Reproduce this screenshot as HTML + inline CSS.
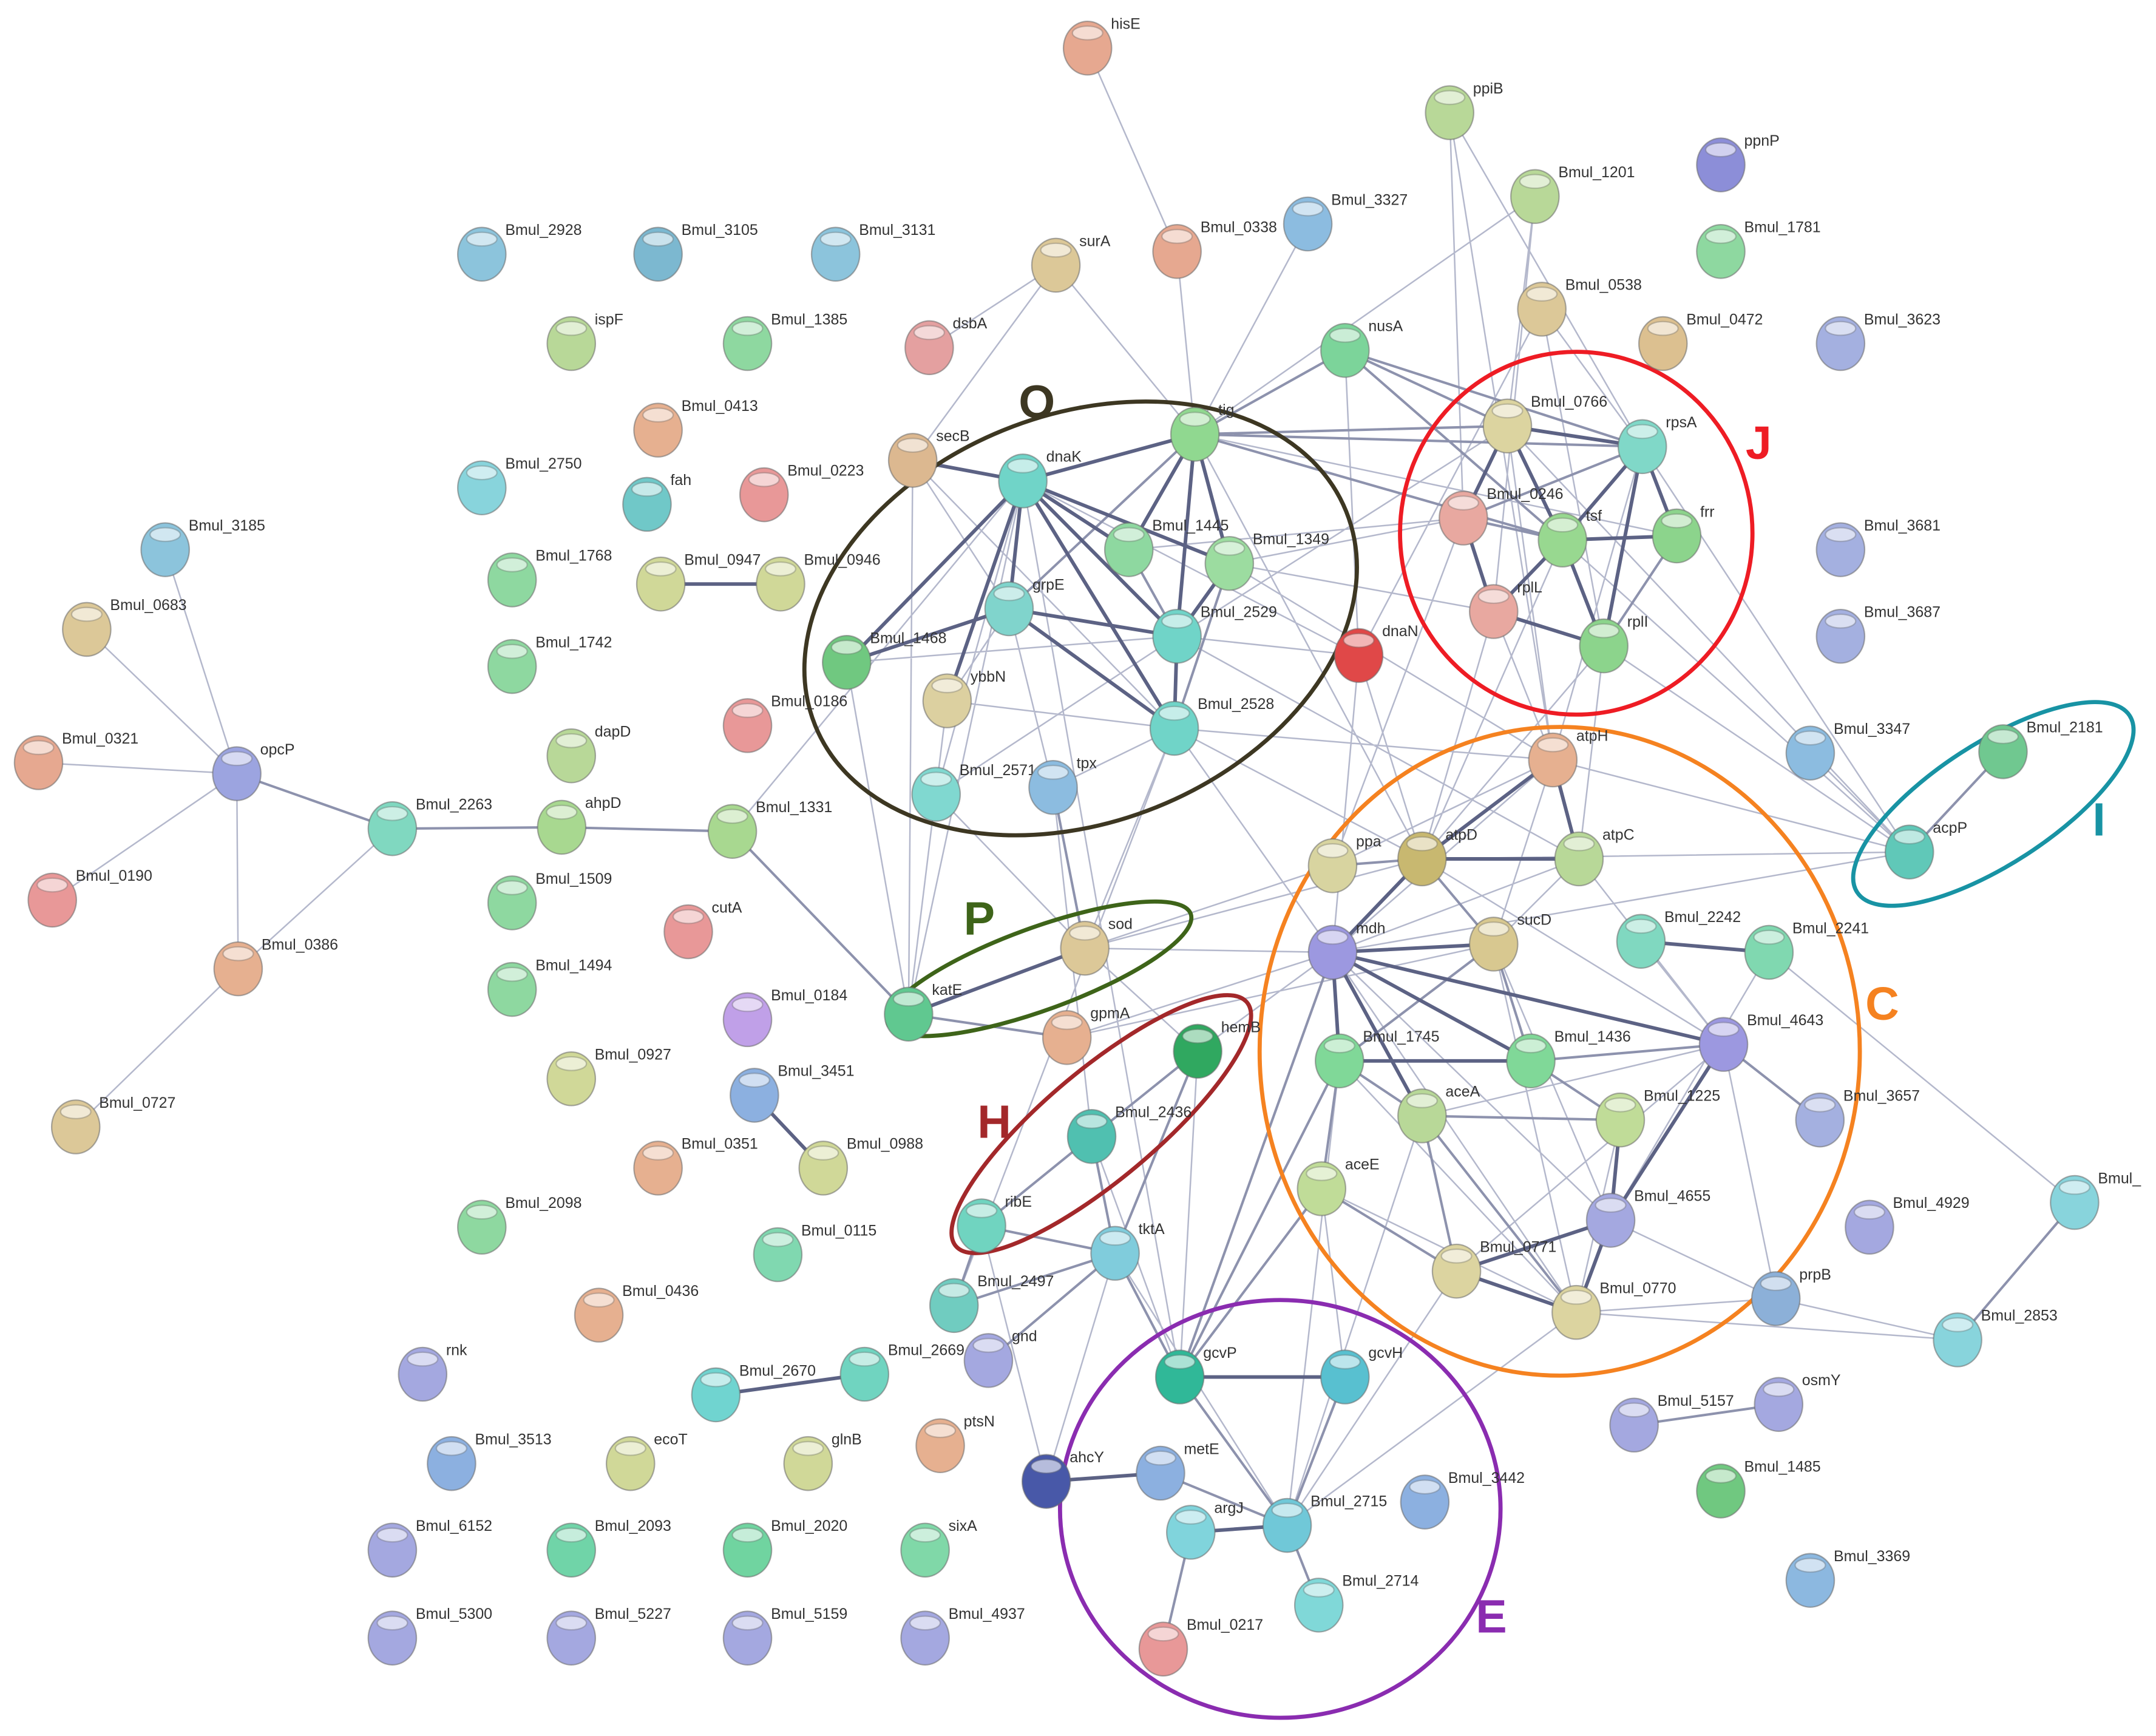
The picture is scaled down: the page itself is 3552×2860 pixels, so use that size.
<!DOCTYPE html>
<html><head><meta charset="utf-8"><style>
html,body{margin:0;padding:0;background:#fff}
svg{display:block}
text{font-family:"Liberation Sans",sans-serif;font-size:11px;fill:#333}
.L{font-weight:bold;font-size:34px}
</style></head><body>
<svg width="3552" height="2860" viewBox="0 0 3552 2860" xmlns="http://www.w3.org/2000/svg">
<defs>
<ellipse id="h" cx="0" cy="-11" rx="11" ry="5" fill="#fff" opacity="0.6"/>
</defs>
<rect width="3552" height="2860" fill="#fff"/>
<g transform="matrix(2.268,0,0,2.264,0,0)">
<path fill="none" stroke="#b4b8cc" stroke-width="1.1" d="
M790 35L855 183M855 183L868 316M767 193L675 253M767 193L663 335M767 193L868 316
M1053 82L1193 325M1053 82L1128 553M1115 143L868 316M1115 143L1085 445M1115 143L1095 310
M1120 225L1193 325M1120 225L987 477M172 563L120 400M172 563L63 458M172 563L28 555M172 563L38 655M172 563L173 705
M173 705L55 820M173 705L285 603M532 605L743 350M1422 975L1290 945M1285 693L1507 875
M1387 620L1128 553M1387 620L1033 625M1387 620L1193 325M1387 620L968 693M1387 620L1095 310M1387 620L1135 393M1387 620L1165 470M1387 620L1315 548
M1120 225L1165 470M1095 310L1128 553M1135 393L1033 625M1085 445L1128 553M987 477L855 463M987 477L1033 625M977 255L987 477
M853 530L968 693M853 530L1033 625M855 463L1095 310M893 410L1085 445M893 410L1063 377M868 316L1033 625M733 443L765 573
M680 578L743 350M765 573L853 530M680 578L855 463M663 335L660 738M615 482L660 738M688 510L660 738M775 755L968 693M775 755L1085 687
M870 765L968 693M788 690L968 693M788 690L1033 625M968 630L788 690M693 950L853 530M857 1002L743 350M1145 955L1290 945M1170 888L1290 945
M1145 955L1422 975M1252 760L1290 945M660 738L743 350M788 690L853 530M950 163L868 316M1053 82L1063 377
M977 255L868 316M977 255L1193 325M868 316L1218 390M743 350L987 477M820 400L1063 377M893 410L1128 553M855 463L1147 625M853 530L1128 553
M968 630L1128 553M987 477L968 693M1085 445L1033 625M1165 470L1147 625M1165 470L1033 625M1063 377L968 630M1193 325L1128 553
M968 693L1145 955M968 693L1170 888M1085 687L1170 888M1085 687L1145 955M1033 625L1252 760M1147 625L1252 760M1192 685L1252 760
M1033 812L1252 760M960 865L1145 955M973 772L1145 955M960 865L977 1002M973 772L935 1110M1033 812L935 1110M1058 925L935 1110M1145 955L935 1110
M810 912L935 1110M870 765L857 1002M793 827L857 1002M713 892L760 1078M810 912L760 1078M765 573L793 827M788 690L870 765M680 578L788 690
M663 335L853 530M663 335L733 443M615 482L743 350M615 482L855 463M688 510L733 443M688 510L853 530M1128 553L1085 687M1128 553L968 693
M1147 625L1085 687M1147 625L968 693M1192 685L1285 693M1285 693L1170 888M1252 760L1058 925M1177 815L1145 955M1322 815L1252 760
"/>
<path fill="none" stroke="#8d92ad" stroke-width="1.8" d="
M172 563L285 603M285 603L408 602M408 602L532 605M532 605L660 738M1422 975L1507 875M1455 547L1387 620M1187 1037L1292 1022
M733 443L868 316M820 400L855 463M868 316L1095 310M868 316L977 255M893 410L853 530M868 316L1193 325M868 316L1135 393
M977 255L1193 325M977 255L1095 310M977 255L1135 393M1063 377L1193 325M1218 390L1165 470M1063 377L1135 393
M968 630L1033 625M1033 625L1085 687M1085 687L1112 772M1085 687L973 772M973 772L1033 812M973 772L960 865M1033 812L1177 815
M1033 812L1058 925M1033 812L1145 955M960 865L1058 925M1112 772L1177 815M1112 772L1252 760M1252 760L1322 815M960 865L857 1002
M973 772L857 1002M968 693L857 1002M857 1002L935 1110M977 1002L935 1110M935 1110L843 1072M935 1110L958 1168M865 1115L845 1200
M870 765L793 827M793 827L713 892M793 827L810 912M810 912L713 892M810 912L693 950M810 912L718 990M870 765L810 912M693 950L713 892
M660 738L775 755M788 690L765 573M810 912L857 1002
"/>
<path fill="none" stroke="#5c6284" stroke-width="2.6" d="
M480 425L567 425M548 797L598 850M520 1015L628 1000M660 738L788 690
M743 350L868 316M743 350L733 443M743 350L820 400M743 350L855 463M743 350L853 530M743 350L615 482M743 350L663 335M743 350L688 510M743 350L893 410
M733 443L855 463M733 443L853 530M733 443L615 482M855 463L868 316M855 463L893 410M853 530L855 463M868 316L893 410M868 316L820 400
M1095 310L1193 325M1095 310L1135 393M1095 310L1063 377M1193 325L1135 393M1193 325L1218 390M1193 325L1165 470M1135 393L1218 390
M1135 393L1085 445M1135 393L1165 470M1085 445L1165 470M1063 377L1085 445
M1128 553L1033 625M1128 553L1147 625M1033 625L1147 625M1033 625L968 693M968 693L1085 687M968 693L973 772M968 693L1112 772
M968 693L1033 812M968 693L1252 760M973 772L1112 772M1177 815L1170 888M1252 760L1170 888M1170 888L1145 955M1170 888L1058 925
M1058 925L1145 955M1192 685L1285 693M857 1002L977 1002M935 1110L865 1115M843 1072L760 1078
"/>
<ellipse cx="785" cy="450" rx="208" ry="148" transform="rotate(-22 785 450)" fill="none" stroke="#3d3722" stroke-width="3"/>
<ellipse cx="1145" cy="388" rx="128" ry="132" fill="none" stroke="#ee1c24" stroke-width="3"/>
<ellipse cx="1448" cy="585" rx="118" ry="44" transform="rotate(-33 1448 585)" fill="none" stroke="#1893a4" stroke-width="3"/>
<ellipse cx="1133" cy="765" rx="218" ry="236" fill="none" stroke="#f58220" stroke-width="3"/>
<ellipse cx="755" cy="705" rx="117" ry="30" transform="rotate(-20 755 705)" fill="none" stroke="#3e6419" stroke-width="3"/>
<ellipse cx="800" cy="818" rx="138" ry="40" transform="rotate(-40 800 818)" fill="none" stroke="#a3282a" stroke-width="3"/>
<ellipse cx="930" cy="1098" rx="160" ry="152" fill="none" stroke="#8a2cb0" stroke-width="3"/>
<text class="L" x="740" y="304" style="fill:#3d3722">O</text>
<text class="L" x="1268" y="334" style="fill:#ee1c24">J</text>
<text class="L" x="1520" y="608" style="fill:#1893a4">I</text>
<text class="L" x="1355" y="742" style="fill:#f58220">C</text>
<text class="L" x="700" y="680" style="fill:#3e6419">P</text>
<text class="L" x="710" y="828" style="fill:#a3282a">H</text>
<text class="L" x="1072" y="1188" style="fill:#8a2cb0">E</text>
<g stroke="#6a6a6a" stroke-opacity="0.55" stroke-width="1">
<g transform="translate(790 35)"><ellipse rx="17.5" ry="19.5" fill="#e6a890"/><use href="#h"/><text x="17" y="-14" stroke="none">hisE</text></g>
<g transform="translate(1053 82)"><ellipse rx="17.5" ry="19.5" fill="#b8d898"/><use href="#h"/><text x="17" y="-14" stroke="none">ppiB</text></g>
<g transform="translate(1115 143)"><ellipse rx="17.5" ry="19.5" fill="#b8d898"/><use href="#h"/><text x="17" y="-14" stroke="none">Bmul_1201</text></g>
<g transform="translate(1250 120)"><ellipse rx="17.5" ry="19.5" fill="#8c8ed8"/><use href="#h"/><text x="17" y="-14" stroke="none">ppnP</text></g>
<g transform="translate(950 163)"><ellipse rx="17.5" ry="19.5" fill="#8cbce0"/><use href="#h"/><text x="17" y="-14" stroke="none">Bmul_3327</text></g>
<g transform="translate(855 183)"><ellipse rx="17.5" ry="19.5" fill="#e6a890"/><use href="#h"/><text x="17" y="-14" stroke="none">Bmul_0338</text></g>
<g transform="translate(767 193)"><ellipse rx="17.5" ry="19.5" fill="#dcc898"/><use href="#h"/><text x="17" y="-14" stroke="none">surA</text></g>
<g transform="translate(350 185)"><ellipse rx="17.5" ry="19.5" fill="#8cc4dc"/><use href="#h"/><text x="17" y="-14" stroke="none">Bmul_2928</text></g>
<g transform="translate(478 185)"><ellipse rx="17.5" ry="19.5" fill="#7cb8d0"/><use href="#h"/><text x="17" y="-14" stroke="none">Bmul_3105</text></g>
<g transform="translate(607 185)"><ellipse rx="17.5" ry="19.5" fill="#8cc4dc"/><use href="#h"/><text x="17" y="-14" stroke="none">Bmul_3131</text></g>
<g transform="translate(1250 183)"><ellipse rx="17.5" ry="19.5" fill="#8ed8a0"/><use href="#h"/><text x="17" y="-14" stroke="none">Bmul_1781</text></g>
<g transform="translate(1120 225)"><ellipse rx="17.5" ry="19.5" fill="#dcc898"/><use href="#h"/><text x="17" y="-14" stroke="none">Bmul_0538</text></g>
<g transform="translate(1208 250)"><ellipse rx="17.5" ry="19.5" fill="#dcc090"/><use href="#h"/><text x="17" y="-14" stroke="none">Bmul_0472</text></g>
<g transform="translate(1337 250)"><ellipse rx="17.5" ry="19.5" fill="#a4b0e0"/><use href="#h"/><text x="17" y="-14" stroke="none">Bmul_3623</text></g>
<g transform="translate(415 250)"><ellipse rx="17.5" ry="19.5" fill="#b8d898"/><use href="#h"/><text x="17" y="-14" stroke="none">ispF</text></g>
<g transform="translate(543 250)"><ellipse rx="17.5" ry="19.5" fill="#8ed8a0"/><use href="#h"/><text x="17" y="-14" stroke="none">Bmul_1385</text></g>
<g transform="translate(675 253)"><ellipse rx="17.5" ry="19.5" fill="#e4a0a0"/><use href="#h"/><text x="17" y="-14" stroke="none">dsbA</text></g>
<g transform="translate(977 255)"><ellipse rx="17.5" ry="19.5" fill="#7cd49a"/><use href="#h"/><text x="17" y="-14" stroke="none">nusA</text></g>
<g transform="translate(478 313)"><ellipse rx="17.5" ry="19.5" fill="#e6b090"/><use href="#h"/><text x="17" y="-14" stroke="none">Bmul_0413</text></g>
<g transform="translate(663 335)"><ellipse rx="17.5" ry="19.5" fill="#dcb890"/><use href="#h"/><text x="17" y="-14" stroke="none">secB</text></g>
<g transform="translate(743 350)"><ellipse rx="17.5" ry="19.5" fill="#70d4c8"/><use href="#h"/><text x="17" y="-14" stroke="none">dnaK</text></g>
<g transform="translate(868 316)"><ellipse rx="17.5" ry="19.5" fill="#90d890"/><use href="#h"/><text x="17" y="-14" stroke="none">tig</text></g>
<g transform="translate(1095 310)"><ellipse rx="17.5" ry="19.5" fill="#dcd4a0"/><use href="#h"/><text x="17" y="-14" stroke="none">Bmul_0766</text></g>
<g transform="translate(1193 325)"><ellipse rx="17.5" ry="19.5" fill="#80d8c8"/><use href="#h"/><text x="17" y="-14" stroke="none">rpsA</text></g>
<g transform="translate(350 355)"><ellipse rx="17.5" ry="19.5" fill="#88d4dc"/><use href="#h"/><text x="17" y="-14" stroke="none">Bmul_2750</text></g>
<g transform="translate(470 367)"><ellipse rx="17.5" ry="19.5" fill="#70c8c8"/><use href="#h"/><text x="17" y="-14" stroke="none">fah</text></g>
<g transform="translate(555 360)"><ellipse rx="17.5" ry="19.5" fill="#e89898"/><use href="#h"/><text x="17" y="-14" stroke="none">Bmul_0223</text></g>
<g transform="translate(120 400)"><ellipse rx="17.5" ry="19.5" fill="#8cc4dc"/><use href="#h"/><text x="17" y="-14" stroke="none">Bmul_3185</text></g>
<g transform="translate(372 422)"><ellipse rx="17.5" ry="19.5" fill="#8ed8a0"/><use href="#h"/><text x="17" y="-14" stroke="none">Bmul_1768</text></g>
<g transform="translate(480 425)"><ellipse rx="17.5" ry="19.5" fill="#d0d898"/><use href="#h"/><text x="17" y="-14" stroke="none">Bmul_0947</text></g>
<g transform="translate(567 425)"><ellipse rx="17.5" ry="19.5" fill="#d0d898"/><use href="#h"/><text x="17" y="-14" stroke="none">Bmul_0946</text></g>
<g transform="translate(820 400)"><ellipse rx="17.5" ry="19.5" fill="#8ed8a0"/><use href="#h"/><text x="17" y="-14" stroke="none">Bmul_1445</text></g>
<g transform="translate(893 410)"><ellipse rx="17.5" ry="19.5" fill="#9cdca0"/><use href="#h"/><text x="17" y="-14" stroke="none">Bmul_1349</text></g>
<g transform="translate(1063 377)"><ellipse rx="17.5" ry="19.5" fill="#e8a8a0"/><use href="#h"/><text x="17" y="-14" stroke="none">Bmul_0246</text></g>
<g transform="translate(1135 393)"><ellipse rx="17.5" ry="19.5" fill="#98d890"/><use href="#h"/><text x="17" y="-14" stroke="none">tsf</text></g>
<g transform="translate(1218 390)"><ellipse rx="17.5" ry="19.5" fill="#8cd48c"/><use href="#h"/><text x="17" y="-14" stroke="none">frr</text></g>
<g transform="translate(1337 400)"><ellipse rx="17.5" ry="19.5" fill="#a4b0e0"/><use href="#h"/><text x="17" y="-14" stroke="none">Bmul_3681</text></g>
<g transform="translate(63 458)"><ellipse rx="17.5" ry="19.5" fill="#dcc898"/><use href="#h"/><text x="17" y="-14" stroke="none">Bmul_0683</text></g>
<g transform="translate(733 443)"><ellipse rx="17.5" ry="19.5" fill="#80d4cc"/><use href="#h"/><text x="17" y="-14" stroke="none">grpE</text></g>
<g transform="translate(855 463)"><ellipse rx="17.5" ry="19.5" fill="#70d4c8"/><use href="#h"/><text x="17" y="-14" stroke="none">Bmul_2529</text></g>
<g transform="translate(987 477)"><ellipse rx="17.5" ry="19.5" fill="#e04848"/><use href="#h"/><text x="17" y="-14" stroke="none">dnaN</text></g>
<g transform="translate(1085 445)"><ellipse rx="17.5" ry="19.5" fill="#e8a8a0"/><use href="#h"/><text x="17" y="-14" stroke="none">rplL</text></g>
<g transform="translate(1165 470)"><ellipse rx="17.5" ry="19.5" fill="#8cd48c"/><use href="#h"/><text x="17" y="-14" stroke="none">rplI</text></g>
<g transform="translate(372 485)"><ellipse rx="17.5" ry="19.5" fill="#8ed8a0"/><use href="#h"/><text x="17" y="-14" stroke="none">Bmul_1742</text></g>
<g transform="translate(1337 463)"><ellipse rx="17.5" ry="19.5" fill="#a4b0e0"/><use href="#h"/><text x="17" y="-14" stroke="none">Bmul_3687</text></g>
<g transform="translate(615 482)"><ellipse rx="17.5" ry="19.5" fill="#70c880"/><use href="#h"/><text x="17" y="-14" stroke="none">Bmul_1468</text></g>
<g transform="translate(688 510)"><ellipse rx="17.5" ry="19.5" fill="#dcd0a0"/><use href="#h"/><text x="17" y="-14" stroke="none">ybbN</text></g>
<g transform="translate(543 528)"><ellipse rx="17.5" ry="19.5" fill="#e89898"/><use href="#h"/><text x="17" y="-14" stroke="none">Bmul_0186</text></g>
<g transform="translate(853 530)"><ellipse rx="17.5" ry="19.5" fill="#70d4c8"/><use href="#h"/><text x="17" y="-14" stroke="none">Bmul_2528</text></g>
<g transform="translate(28 555)"><ellipse rx="17.5" ry="19.5" fill="#e6a890"/><use href="#h"/><text x="17" y="-14" stroke="none">Bmul_0321</text></g>
<g transform="translate(172 563)"><ellipse rx="17.5" ry="19.5" fill="#9ca4e0"/><use href="#h"/><text x="17" y="-14" stroke="none">opcP</text></g>
<g transform="translate(415 550)"><ellipse rx="17.5" ry="19.5" fill="#b8d898"/><use href="#h"/><text x="17" y="-14" stroke="none">dapD</text></g>
<g transform="translate(1315 548)"><ellipse rx="17.5" ry="19.5" fill="#8cbce0"/><use href="#h"/><text x="17" y="-14" stroke="none">Bmul_3347</text></g>
<g transform="translate(1455 547)"><ellipse rx="17.5" ry="19.5" fill="#70c890"/><use href="#h"/><text x="17" y="-14" stroke="none">Bmul_2181</text></g>
<g transform="translate(1128 553)"><ellipse rx="17.5" ry="19.5" fill="#e6b090"/><use href="#h"/><text x="17" y="-14" stroke="none">atpH</text></g>
<g transform="translate(680 578)"><ellipse rx="17.5" ry="19.5" fill="#80d8d0"/><use href="#h"/><text x="17" y="-14" stroke="none">Bmul_2571</text></g>
<g transform="translate(765 573)"><ellipse rx="17.5" ry="19.5" fill="#8cbce0"/><use href="#h"/><text x="17" y="-14" stroke="none">tpx</text></g>
<g transform="translate(285 603)"><ellipse rx="17.5" ry="19.5" fill="#80d8c0"/><use href="#h"/><text x="17" y="-14" stroke="none">Bmul_2263</text></g>
<g transform="translate(408 602)"><ellipse rx="17.5" ry="19.5" fill="#a8d890"/><use href="#h"/><text x="17" y="-14" stroke="none">ahpD</text></g>
<g transform="translate(532 605)"><ellipse rx="17.5" ry="19.5" fill="#a8d890"/><use href="#h"/><text x="17" y="-14" stroke="none">Bmul_1331</text></g>
<g transform="translate(38 655)"><ellipse rx="17.5" ry="19.5" fill="#e89898"/><use href="#h"/><text x="17" y="-14" stroke="none">Bmul_0190</text></g>
<g transform="translate(372 657)"><ellipse rx="17.5" ry="19.5" fill="#8ed8a0"/><use href="#h"/><text x="17" y="-14" stroke="none">Bmul_1509</text></g>
<g transform="translate(500 678)"><ellipse rx="17.5" ry="19.5" fill="#e89898"/><use href="#h"/><text x="17" y="-14" stroke="none">cutA</text></g>
<g transform="translate(1387 620)"><ellipse rx="17.5" ry="19.5" fill="#60c8b8"/><use href="#h"/><text x="17" y="-14" stroke="none">acpP</text></g>
<g transform="translate(968 630)"><ellipse rx="17.5" ry="19.5" fill="#d8d4a0"/><use href="#h"/><text x="17" y="-14" stroke="none">ppa</text></g>
<g transform="translate(1033 625)"><ellipse rx="17.5" ry="19.5" fill="#c8b870"/><use href="#h"/><text x="17" y="-14" stroke="none">atpD</text></g>
<g transform="translate(1147 625)"><ellipse rx="17.5" ry="19.5" fill="#b8d898"/><use href="#h"/><text x="17" y="-14" stroke="none">atpC</text></g>
<g transform="translate(788 690)"><ellipse rx="17.5" ry="19.5" fill="#dcc898"/><use href="#h"/><text x="17" y="-14" stroke="none">sod</text></g>
<g transform="translate(968 693)"><ellipse rx="17.5" ry="19.5" fill="#9c98e0"/><use href="#h"/><text x="17" y="-14" stroke="none">mdh</text></g>
<g transform="translate(1085 687)"><ellipse rx="17.5" ry="19.5" fill="#d8c890"/><use href="#h"/><text x="17" y="-14" stroke="none">sucD</text></g>
<g transform="translate(1192 685)"><ellipse rx="17.5" ry="19.5" fill="#80d8c0"/><use href="#h"/><text x="17" y="-14" stroke="none">Bmul_2242</text></g>
<g transform="translate(1285 693)"><ellipse rx="17.5" ry="19.5" fill="#80d8b0"/><use href="#h"/><text x="17" y="-14" stroke="none">Bmul_2241</text></g>
<g transform="translate(173 705)"><ellipse rx="17.5" ry="19.5" fill="#e6b090"/><use href="#h"/><text x="17" y="-14" stroke="none">Bmul_0386</text></g>
<g transform="translate(372 720)"><ellipse rx="17.5" ry="19.5" fill="#8ed8a0"/><use href="#h"/><text x="17" y="-14" stroke="none">Bmul_1494</text></g>
<g transform="translate(543 742)"><ellipse rx="17.5" ry="19.5" fill="#c0a0e8"/><use href="#h"/><text x="17" y="-14" stroke="none">Bmul_0184</text></g>
<g transform="translate(660 738)"><ellipse rx="17.5" ry="19.5" fill="#60c890"/><use href="#h"/><text x="17" y="-14" stroke="none">katE</text></g>
<g transform="translate(775 755)"><ellipse rx="17.5" ry="19.5" fill="#e6b090"/><use href="#h"/><text x="17" y="-14" stroke="none">gpmA</text></g>
<g transform="translate(870 765)"><ellipse rx="17.5" ry="19.5" fill="#30a860"/><use href="#h"/><text x="17" y="-14" stroke="none">hemB</text></g>
<g transform="translate(1252 760)"><ellipse rx="17.5" ry="19.5" fill="#9c98e0"/><use href="#h"/><text x="17" y="-14" stroke="none">Bmul_4643</text></g>
<g transform="translate(973 772)"><ellipse rx="17.5" ry="19.5" fill="#80d898"/><use href="#h"/><text x="17" y="-14" stroke="none">Bmul_1745</text></g>
<g transform="translate(1112 772)"><ellipse rx="17.5" ry="19.5" fill="#80d898"/><use href="#h"/><text x="17" y="-14" stroke="none">Bmul_1436</text></g>
<g transform="translate(415 785)"><ellipse rx="17.5" ry="19.5" fill="#d0d898"/><use href="#h"/><text x="17" y="-14" stroke="none">Bmul_0927</text></g>
<g transform="translate(548 797)"><ellipse rx="17.5" ry="19.5" fill="#8cb0e0"/><use href="#h"/><text x="17" y="-14" stroke="none">Bmul_3451</text></g>
<g transform="translate(55 820)"><ellipse rx="17.5" ry="19.5" fill="#dcc898"/><use href="#h"/><text x="17" y="-14" stroke="none">Bmul_0727</text></g>
<g transform="translate(1033 812)"><ellipse rx="17.5" ry="19.5" fill="#b8d898"/><use href="#h"/><text x="17" y="-14" stroke="none">aceA</text></g>
<g transform="translate(1177 815)"><ellipse rx="17.5" ry="19.5" fill="#c0dc98"/><use href="#h"/><text x="17" y="-14" stroke="none">Bmul_1225</text></g>
<g transform="translate(1322 815)"><ellipse rx="17.5" ry="19.5" fill="#a4b0e0"/><use href="#h"/><text x="17" y="-14" stroke="none">Bmul_3657</text></g>
<g transform="translate(793 827)"><ellipse rx="17.5" ry="19.5" fill="#50c0b0"/><use href="#h"/><text x="17" y="-14" stroke="none">Bmul_2436</text></g>
<g transform="translate(478 850)"><ellipse rx="17.5" ry="19.5" fill="#e6b090"/><use href="#h"/><text x="17" y="-14" stroke="none">Bmul_0351</text></g>
<g transform="translate(598 850)"><ellipse rx="17.5" ry="19.5" fill="#d0d898"/><use href="#h"/><text x="17" y="-14" stroke="none">Bmul_0988</text></g>
<g transform="translate(960 865)"><ellipse rx="17.5" ry="19.5" fill="#c0dc98"/><use href="#h"/><text x="17" y="-14" stroke="none">aceE</text></g>
<g transform="translate(350 893)"><ellipse rx="17.5" ry="19.5" fill="#8ed8a0"/><use href="#h"/><text x="17" y="-14" stroke="none">Bmul_2098</text></g>
<g transform="translate(1170 888)"><ellipse rx="17.5" ry="19.5" fill="#a4a8e0"/><use href="#h"/><text x="17" y="-14" stroke="none">Bmul_4655</text></g>
<g transform="translate(1358 893)"><ellipse rx="17.5" ry="19.5" fill="#a4a8e0"/><use href="#h"/><text x="17" y="-14" stroke="none">Bmul_4929</text></g>
<g transform="translate(1507 875)"><ellipse rx="17.5" ry="19.5" fill="#88d4dc"/><use href="#h"/><text x="17" y="-14" stroke="none">Bmul_</text></g>
<g transform="translate(713 892)"><ellipse rx="17.5" ry="19.5" fill="#70d4c0"/><use href="#h"/><text x="17" y="-14" stroke="none">ribE</text></g>
<g transform="translate(565 913)"><ellipse rx="17.5" ry="19.5" fill="#80d8b0"/><use href="#h"/><text x="17" y="-14" stroke="none">Bmul_0115</text></g>
<g transform="translate(810 912)"><ellipse rx="17.5" ry="19.5" fill="#80ccdc"/><use href="#h"/><text x="17" y="-14" stroke="none">tktA</text></g>
<g transform="translate(1058 925)"><ellipse rx="17.5" ry="19.5" fill="#dcd4a0"/><use href="#h"/><text x="17" y="-14" stroke="none">Bmul_0771</text></g>
<g transform="translate(1145 955)"><ellipse rx="17.5" ry="19.5" fill="#dcd4a0"/><use href="#h"/><text x="17" y="-14" stroke="none">Bmul_0770</text></g>
<g transform="translate(1290 945)"><ellipse rx="17.5" ry="19.5" fill="#8cb0d8"/><use href="#h"/><text x="17" y="-14" stroke="none">prpB</text></g>
<g transform="translate(693 950)"><ellipse rx="17.5" ry="19.5" fill="#70ccc0"/><use href="#h"/><text x="17" y="-14" stroke="none">Bmul_2497</text></g>
<g transform="translate(435 957)"><ellipse rx="17.5" ry="19.5" fill="#e6b090"/><use href="#h"/><text x="17" y="-14" stroke="none">Bmul_0436</text></g>
<g transform="translate(718 990)"><ellipse rx="17.5" ry="19.5" fill="#a4a8e0"/><use href="#h"/><text x="17" y="-14" stroke="none">gnd</text></g>
<g transform="translate(1422 975)"><ellipse rx="17.5" ry="19.5" fill="#88d4dc"/><use href="#h"/><text x="17" y="-14" stroke="none">Bmul_2853</text></g>
<g transform="translate(307 1000)"><ellipse rx="17.5" ry="19.5" fill="#a4a8e0"/><use href="#h"/><text x="17" y="-14" stroke="none">rnk</text></g>
<g transform="translate(520 1015)"><ellipse rx="17.5" ry="19.5" fill="#70d4d0"/><use href="#h"/><text x="17" y="-14" stroke="none">Bmul_2670</text></g>
<g transform="translate(628 1000)"><ellipse rx="17.5" ry="19.5" fill="#70d4c0"/><use href="#h"/><text x="17" y="-14" stroke="none">Bmul_2669</text></g>
<g transform="translate(857 1002)"><ellipse rx="17.5" ry="19.5" fill="#30b898"/><use href="#h"/><text x="17" y="-14" stroke="none">gcvP</text></g>
<g transform="translate(977 1002)"><ellipse rx="17.5" ry="19.5" fill="#58c0d0"/><use href="#h"/><text x="17" y="-14" stroke="none">gcvH</text></g>
<g transform="translate(1292 1022)"><ellipse rx="17.5" ry="19.5" fill="#a4a8e0"/><use href="#h"/><text x="17" y="-14" stroke="none">osmY</text></g>
<g transform="translate(1187 1037)"><ellipse rx="17.5" ry="19.5" fill="#a4a8e0"/><use href="#h"/><text x="17" y="-14" stroke="none">Bmul_5157</text></g>
<g transform="translate(328 1065)"><ellipse rx="17.5" ry="19.5" fill="#8cb0e0"/><use href="#h"/><text x="17" y="-14" stroke="none">Bmul_3513</text></g>
<g transform="translate(458 1065)"><ellipse rx="17.5" ry="19.5" fill="#d0d898"/><use href="#h"/><text x="17" y="-14" stroke="none">ecoT</text></g>
<g transform="translate(587 1065)"><ellipse rx="17.5" ry="19.5" fill="#d0d898"/><use href="#h"/><text x="17" y="-14" stroke="none">glnB</text></g>
<g transform="translate(683 1052)"><ellipse rx="17.5" ry="19.5" fill="#e6b090"/><use href="#h"/><text x="17" y="-14" stroke="none">ptsN</text></g>
<g transform="translate(760 1078)"><ellipse rx="17.5" ry="19.5" fill="#4858a8"/><use href="#h"/><text x="17" y="-14" stroke="none">ahcY</text></g>
<g transform="translate(843 1072)"><ellipse rx="17.5" ry="19.5" fill="#8cb0e0"/><use href="#h"/><text x="17" y="-14" stroke="none">metE</text></g>
<g transform="translate(1035 1093)"><ellipse rx="17.5" ry="19.5" fill="#8cb0e0"/><use href="#h"/><text x="17" y="-14" stroke="none">Bmul_3442</text></g>
<g transform="translate(1250 1085)"><ellipse rx="17.5" ry="19.5" fill="#70c880"/><use href="#h"/><text x="17" y="-14" stroke="none">Bmul_1485</text></g>
<g transform="translate(865 1115)"><ellipse rx="17.5" ry="19.5" fill="#80d4dc"/><use href="#h"/><text x="17" y="-14" stroke="none">argJ</text></g>
<g transform="translate(935 1110)"><ellipse rx="17.5" ry="19.5" fill="#70c8d8"/><use href="#h"/><text x="17" y="-14" stroke="none">Bmul_2715</text></g>
<g transform="translate(285 1128)"><ellipse rx="17.5" ry="19.5" fill="#a4a8e0"/><use href="#h"/><text x="17" y="-14" stroke="none">Bmul_6152</text></g>
<g transform="translate(415 1128)"><ellipse rx="17.5" ry="19.5" fill="#70d4a8"/><use href="#h"/><text x="17" y="-14" stroke="none">Bmul_2093</text></g>
<g transform="translate(543 1128)"><ellipse rx="17.5" ry="19.5" fill="#70d4a0"/><use href="#h"/><text x="17" y="-14" stroke="none">Bmul_2020</text></g>
<g transform="translate(672 1128)"><ellipse rx="17.5" ry="19.5" fill="#80d8a8"/><use href="#h"/><text x="17" y="-14" stroke="none">sixA</text></g>
<g transform="translate(1315 1150)"><ellipse rx="17.5" ry="19.5" fill="#8cb8e0"/><use href="#h"/><text x="17" y="-14" stroke="none">Bmul_3369</text></g>
<g transform="translate(958 1168)"><ellipse rx="17.5" ry="19.5" fill="#80d8d8"/><use href="#h"/><text x="17" y="-14" stroke="none">Bmul_2714</text></g>
<g transform="translate(845 1200)"><ellipse rx="17.5" ry="19.5" fill="#e89898"/><use href="#h"/><text x="17" y="-14" stroke="none">Bmul_0217</text></g>
<g transform="translate(285 1192)"><ellipse rx="17.5" ry="19.5" fill="#a4a8e0"/><use href="#h"/><text x="17" y="-14" stroke="none">Bmul_5300</text></g>
<g transform="translate(415 1192)"><ellipse rx="17.5" ry="19.5" fill="#a4a8e0"/><use href="#h"/><text x="17" y="-14" stroke="none">Bmul_5227</text></g>
<g transform="translate(543 1192)"><ellipse rx="17.5" ry="19.5" fill="#a4a8e0"/><use href="#h"/><text x="17" y="-14" stroke="none">Bmul_5159</text></g>
<g transform="translate(672 1192)"><ellipse rx="17.5" ry="19.5" fill="#a4a8e0"/><use href="#h"/><text x="17" y="-14" stroke="none">Bmul_4937</text></g>
</g>
</g>
</svg>
</body></html>
